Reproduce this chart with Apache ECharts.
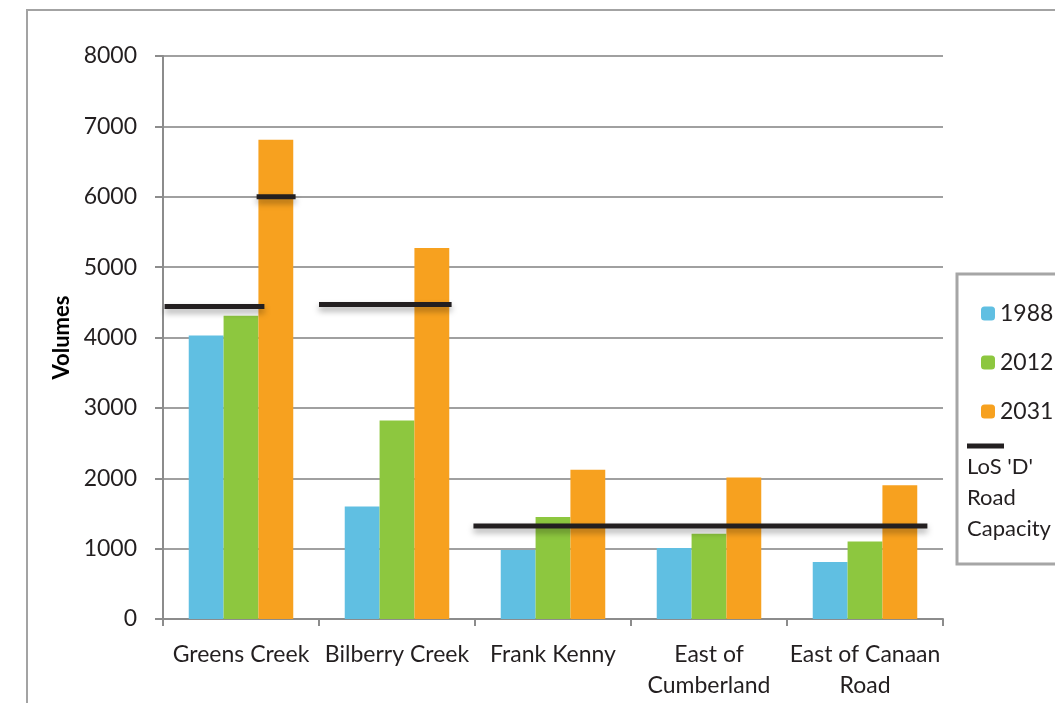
<!DOCTYPE html>
<html><head><meta charset="utf-8">
<script src="https://cdn.jsdelivr.net/npm/echarts@6/dist/echarts.min.js"></script>
<style>html,body{margin:0;padding:0;background:#fff}#c{width:1055px;height:703px}</style>
</head><body><div id="c"></div>
<script>
const categories = ['Greens Creek', 'Bilberry Creek', 'Frank Kenny', 'East of\nCumberland', 'East of Canaan\nRoad'];
const years = ['1988', '2012', '2031'];
const v1988 = [4030, 1600, 980, 1010, 810];
const v2012 = [4310, 2820, 1450, 1210, 1100];
const v2031 = [6810, 5270, 2120, 2010, 1900];
const yTicks = [0, 1000, 2000, 3000, 4000, 5000, 6000, 7000, 8000];
const capacityName = "LoS 'D' Road Capacity";
// capacity segments: [start (category units), end (category units), value]
const capStart = [0.01, 0.6, 1.0, 1.99];
const capEnd = [0.65, 0.85, 1.85, 4.9];
const capValue = [4440, 6000, 4470, 1320];

const colors = ['#60bfe2', '#8dc73f', '#f7a11f'];
const font = 'Lato, "Liberation Sans", sans-serif';
const chart = echarts.init(document.getElementById('c'));
const barValues = [v1988, v2012, v2031];
const series = years.map((y, i) => ({
  name: y, type: 'bar', data: barValues[i], barGap: '0%', barCategoryGap: '33%',
  itemStyle: { color: colors[i] }, z: 2
}));
capValue.forEach((v, i) => {
  series.push({
    name: capacityName, type: 'line', xAxisIndex: 1, symbol: 'none', z: 5,
    data: [[capStart[i], v], [capEnd[i], v]],
    lineStyle: { color: '#231f20', width: 5, shadowColor: 'rgba(0,0,0,0.35)', shadowBlur: 6, shadowOffsetY: 4 },
    itemStyle: { color: '#231f20' }
  });
});
chart.setOption({
  animation: false,
  textStyle: { fontFamily: font },
  grid: { left: 163, right: 112, top: 56, bottom: 84, containLabel: false },
  graphic: [
    { type: 'rect', shape: { x: 27, y: 10, width: 1100, height: 800 }, style: { fill: 'none', stroke: '#a3a3a3', lineWidth: 2 }, silent: true },
    { type: 'rect', shape: { x: 957, y: 274, width: 150, height: 290 }, style: { fill: '#fff', stroke: '#a6a6a6', lineWidth: 3 }, silent: true, z: 0 }
  ],
  legend: [
    { data: years, orient: 'vertical', left: 976, top: 297, itemWidth: 14, itemHeight: 14, itemGap: 26,
      textStyle: { fontFamily: font, fontSize: 23, color: '#231f20', lineHeight: 20 }, selectedMode: false },
    { data: [{ name: capacityName, icon: 'rect' }], orient: 'vertical', left: 957, top: 430, itemWidth: 0, itemHeight: 0, selectedMode: false,
      formatter: () => "{l| }\n{t|LoS 'D'}\n{t|Road}\n{t|Capacity}",
      textStyle: { fontFamily: font, fontSize: 22, color: '#231f20',
        rich: { l: { width: 37, height: 5, backgroundColor: '#231f20', lineHeight: 10 },
                t: { fontFamily: font, fontSize: 22, color: '#231f20', lineHeight: 31 } } } }
  ],
  xAxis: [
    { type: 'category', data: categories, boundaryGap: true,
      axisLine: { lineStyle: { color: '#8c8c8c', width: 2 } },
      axisTick: { show: true, length: 7, lineStyle: { color: '#8c8c8c', width: 2 } },
      axisLabel: { fontFamily: font, fontSize: 23, color: '#231f20', margin: 20, lineHeight: 31, interval: 0 } },
    { type: 'value', min: 0, max: 5, show: false }
  ],
  yAxis: {
    type: 'value', min: yTicks[0], max: yTicks[yTicks.length - 1], interval: 1000,
    name: 'Volumes', nameLocation: 'middle', nameGap: 88, nameRotate: 90,
    nameTextStyle: { fontFamily: font, fontSize: 22, fontWeight: 'bold', color: '#000' },
    axisLine: { show: true, lineStyle: { color: '#8c8c8c', width: 2 } },
    axisTick: { show: true, length: 8, lineStyle: { color: '#8c8c8c', width: 2 } },
    axisLabel: { fontFamily: font, fontSize: 23, color: '#231f20', margin: 26, formatter: v => String(v) },
    splitLine: { lineStyle: { color: '#a0a0a0', width: 2 } }
  },
  series: series
});
</script></body></html>
